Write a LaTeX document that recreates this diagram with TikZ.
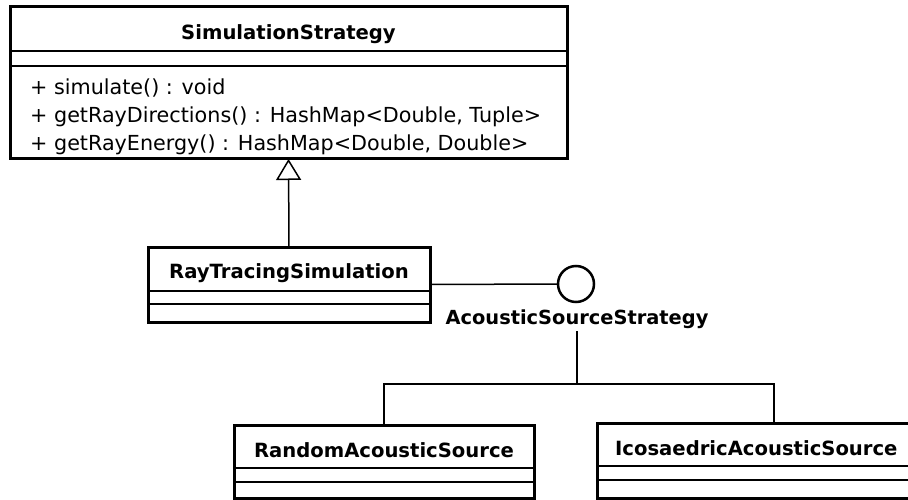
\documentclass[tikz,border=0pt]{standalone}
\usepackage{fontspec}
\setmainfont{DejaVu Sans}
\usetikzlibrary{arrows.meta}
\tikzset{
  umlbox/.style={draw, line width=3pt, rectangle, inner sep=0pt, outer sep=0pt, fill=white},
  sepline/.style={line width=1.5pt},
  conn/.style={line width=1.5pt},
  gen/.style={line width=1.5pt, -{Triangle[open, length=21pt, width=25pt, line width=1.5pt]}},
  titletext/.style={font=\fontsize{19.6}{24}\selectfont\bfseries, inner sep=0pt},
  bodytext/.style={font=\fontsize{20.7}{27.5}\selectfont, inner sep=0pt},
  labeltext/.style={font=\fontsize{19.4}{24}\selectfont\bfseries, inner sep=3pt},
}
\begin{document}
\begin{tikzpicture}[x=1pt,y=-1pt]
\useasboundingbox (0,0) rectangle (908,500);
\fill[white] (0,0) rectangle (908,500);
\clip (0,0) rectangle (908,500);

% boxes
\node[umlbox, minimum width=557pt, minimum height=152pt] (ss) at (288.5,83) {};
\node[umlbox, minimum width=282pt, minimum height=75pt] (rts) at (289,284.5) {};
\node[umlbox, minimum width=300pt, minimum height=73.5pt] (ras) at (384,461.75) {};
\node[umlbox, minimum width=354pt, minimum height=75.5pt] (ias) at (774,460.75) {};

% compartment lines
\foreach \n/\a/\b in {ss/44/59, rts/44/57, ras/43/57, ias/43/57}{
  \draw[sepline] ([yshift=-\a pt]\n.north west) -- ([yshift=-\a pt]\n.north east);
  \draw[sepline] ([yshift=-\b pt]\n.north west) -- ([yshift=-\b pt]\n.north east);
}

% texts
\node[titletext, anchor=base] (ssT) at (288.5,40) {SimulationStrategy};
\node[bodytext, anchor=base west] (m1) at (30,95) {+ simulate() : void};
\node[bodytext, anchor=base west] (m2) at (30,123) {+ getRayDirections() : HashMap<Double, Tuple>};
\node[bodytext, anchor=base west] (m3) at (30,150.5) {+ getRayEnergy() : HashMap<Double, Double>};
\node[titletext, anchor=base] (rtsT) at (289,278) {RayTracingSimulation};
\node[titletext, anchor=base] (rasT) at (384,457) {RandomAcousticSource};
\node[titletext, anchor=base west] (iasT) at (615,455) {IcosaedricAcousticSource};

% interface
\node[circle, draw, line width=2.5pt, minimum size=36pt, inner sep=0pt, outer sep=0pt] (iface) at (576,284) {};
\node[labeltext, anchor=base] (lbl) at (577,324) {AcousticSourceStrategy};
\coordinate (fork) at (577,384);

% connectors
\draw[gen] (rts.north) -- (ss.south);
\draw[conn] (rts.east) -- (iface.west);
\draw[conn] (lbl.south) -- (fork);
\draw[conn] (ras.north) |- (fork) -| (ias.north);
\end{tikzpicture}
\end{document}
